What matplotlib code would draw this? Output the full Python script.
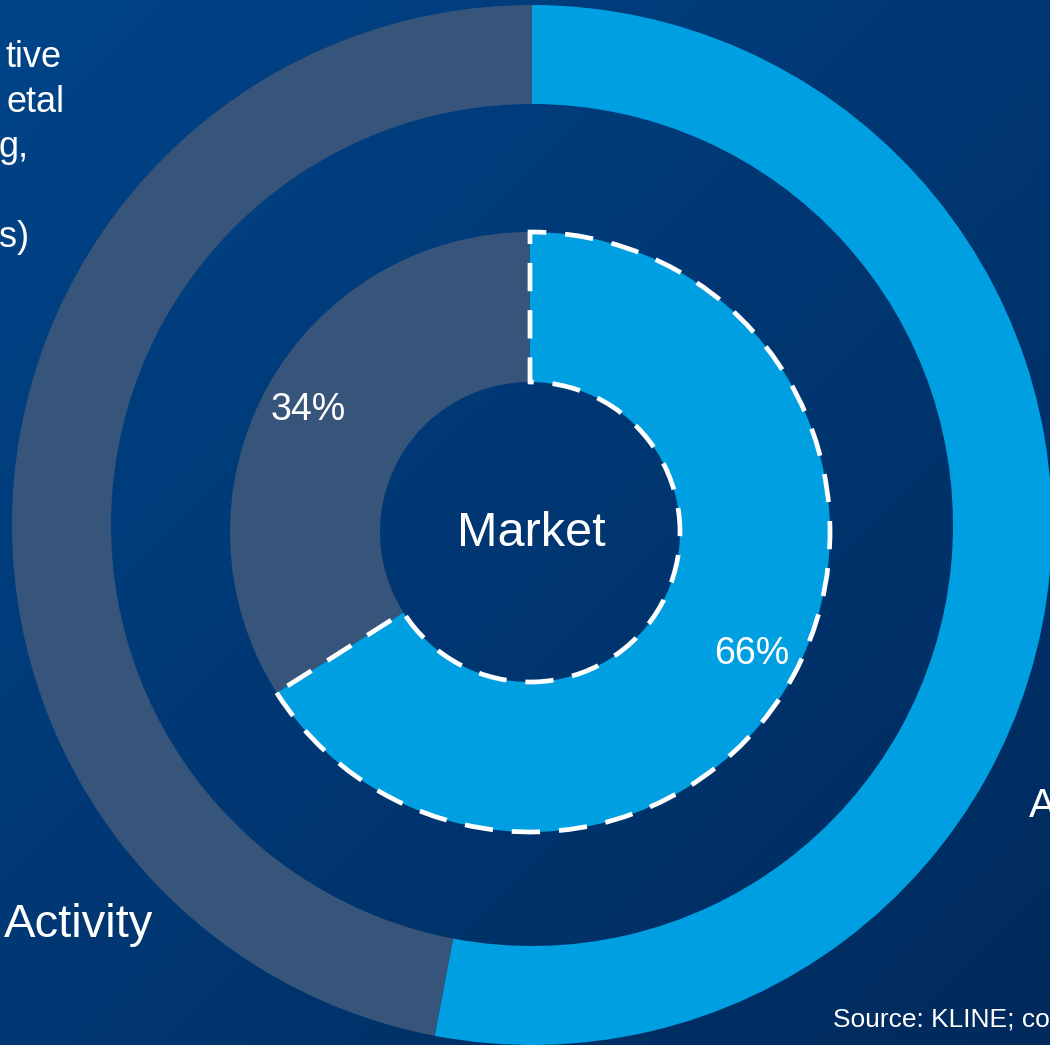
import numpy as np
import matplotlib
matplotlib.use("Agg")
import matplotlib.pyplot as plt
from matplotlib.patches import Wedge

plt.rcParams['font.family'] = ['Liberation Sans', 'DejaVu Sans']

# --- dados -------------------------------------------------------------
anel_externo_valores = [53, 47]
anel_interno_valores = [66, 34]
cores_segmentos = ['#009FE1', '#37557A']

texto_esquerda = ['tive', 'etal', 'g,', '', 's)']
texto_atividade = 'Activity'
texto_direita = 'A'
texto_centro = 'Market'
texto_fonte = 'Source: KLINE; co'

LARGURA, ALTURA = 1050, 1045

fig = plt.figure(figsize=(LARGURA / 100, ALTURA / 100), dpi=100)
ax = fig.add_axes([0, 0, 1, 1])

# fundo em degrade diagonal (superior esquerdo -> inferior direito)
xs = np.linspace(0, 1, 300)
ys = np.linspace(0, 1, 300)
gx, gy = np.meshgrid(xs, ys)
t = (gx + gy) / 2
cor_ini = np.array([0, 68, 137]) / 255
cor_fim = np.array([0, 42, 92]) / 255
fundo = cor_ini[None, None, :] * (1 - t[..., None]) + cor_fim[None, None, :] * t[..., None]
ax.imshow(fundo, extent=(0, LARGURA, 0, ALTURA), origin='upper', zorder=0)

# anel externo
ax.pie(anel_externo_valores, colors=cores_segmentos, startangle=90, counterclock=False,
       radius=520, center=(532, 520),
       wedgeprops=dict(width=99, linewidth=0, zorder=1))

# anel interno com rotulos percentuais
fatias, _, rotulos = ax.pie(
    anel_interno_valores, colors=cores_segmentos, startangle=90, counterclock=False,
    radius=300, center=(530, 513), autopct=lambda p: f'{p:.0f}%', pctdistance=0.845,
    wedgeprops=dict(width=150, linewidth=0, zorder=1),
    textprops=dict(color='white', fontsize=27),
)

# contorno tracejado da fatia destacada
destaque = fatias[0]
ax.add_patch(Wedge(destaque.center, destaque.r, destaque.theta1, destaque.theta2,
                   width=destaque.width, fill=False, edgecolor='white', linewidth=3.4,
                   linestyle=(0, (6.0, 4.0)), joinstyle='miter', capstyle='butt', zorder=3))

ax.text(531, 1045 - 533, texto_centro, color='white', fontsize=35, ha='center', va='center')

# textos laterais
for i, linha in enumerate(texto_esquerda):
    ax.text(6 if i < 2 else -1, 1045 - (67 + 45 * i), linha, color='white', fontsize=26,
            ha='left', va='baseline')
ax.text(4, 1045 - 937, texto_atividade, color='white', fontsize=34, ha='left', va='baseline')
ax.text(1029, 1045 - 817, texto_direita, color='white', fontsize=29, ha='left', va='baseline')
ax.text(833, 1045 - 1027, texto_fonte, color='white', fontsize=19, ha='left', va='baseline')

ax.set_xlim(0, LARGURA)
ax.set_ylim(0, ALTURA)
ax.axis('off')

fig.savefig('out.png', dpi=100)
plt.close(fig)
